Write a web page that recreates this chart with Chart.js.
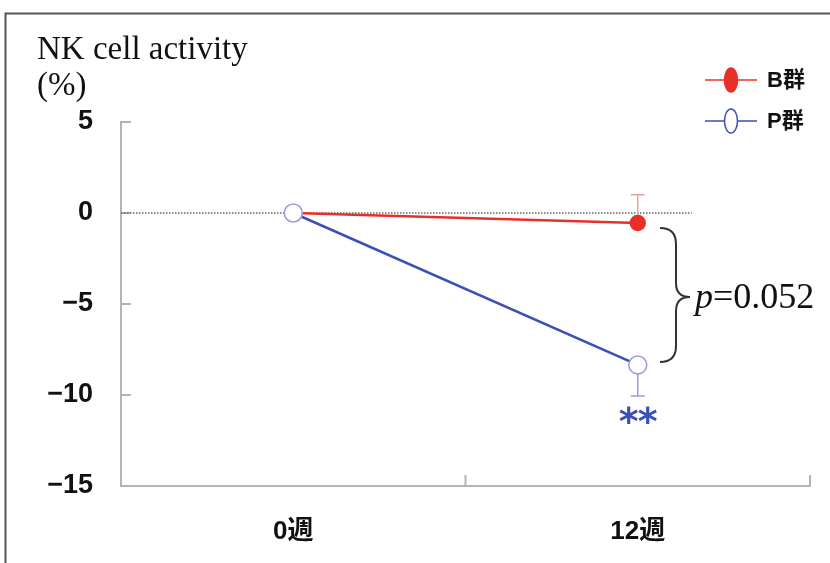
<!DOCTYPE html>
<html>
<head>
<meta charset="UTF-8">
<script src="https://cdn.jsdelivr.net/npm/chart.js"></script>
<style>
  html, body { margin: 0; padding: 0; background: #fff; }
  #wrap { width: 830px; height: 563px; position: relative; }
</style>
</head>
<body>
<div id="wrap"><canvas id="grafica" width="830" height="563"></canvas></div>
<script>
// data
const categories = ["0週", "12週"];
const seriesNames = ["B群", "P群"];
const bValues = [0, -0.55];
const pValues = [0, -8.35];
const bErrUp = [0, 1.55];     // only the upper whisker is shown for B
const pErrDown = [0, 1.7];    // only the lower whisker is shown for P
const yTicks = [5, 0, -5, -10, -15];
const pText = "=0.052";

const RED = "#e8302a";
const BLUE = "#3b4fb5";
const PURPLE = "#9a9ae0";
const AXIS = "#b4b4b4";
const jpFont = "'Liberation Sans','Noto Sans CJK JP',sans-serif";
const serif = "'Liberation Serif','DejaVu Serif',serif";

const extras = {
  id: "extras",
  beforeDatasetsDraw(chart) {
    const { ctx, chartArea: a, scales: { x, y } } = chart;
    ctx.save();
    // frame round the whole figure
    ctx.strokeStyle = "#555";
    ctx.lineWidth = 2;
    ctx.beginPath();
    ctx.moveTo(5.5, 600);
    ctx.lineTo(5.5, 13.5);
    ctx.lineTo(840, 13.5);
    ctx.stroke();

    // inner tick marks on y
    ctx.strokeStyle = AXIS;
    ctx.lineWidth = 2;
    yTicks.forEach((v) => {
      const py = y.getPixelForValue(v);
      ctx.beginPath();
      ctx.moveTo(a.left, py);
      ctx.lineTo(a.left + 10, py);
      ctx.stroke();
    });
    // inner tick marks on x, between categories and at the end
    const step = x.getPixelForValue(1) - x.getPixelForValue(0);
    categories.forEach((c, i) => {
      const px = x.getPixelForValue(i) + step / 2;
      ctx.beginPath();
      ctx.moveTo(px, a.bottom);
      ctx.lineTo(px, a.bottom - 11);
      ctx.stroke();
    });

    // dotted zero line
    const y0 = y.getPixelForValue(0);
    ctx.strokeStyle = "#666";
    ctx.lineWidth = 1.5;
    ctx.setLineDash([1.5, 1.5]);
    ctx.beginPath();
    ctx.moveTo(a.left, y0);
    ctx.lineTo(x.getPixelForValue(1) + 54, y0);
    ctx.stroke();
    ctx.setLineDash([]);

    // error bars
    const i = 1;
    const ex = x.getPixelForValue(i);
    ctx.lineWidth = 1.5;
    ctx.strokeStyle = "#f0a0a0";
    let yt = y.getPixelForValue(bValues[i] + bErrUp[i]);
    ctx.beginPath();
    ctx.moveTo(ex, y.getPixelForValue(bValues[i]));
    ctx.lineTo(ex, yt);
    ctx.moveTo(ex - 7, yt);
    ctx.lineTo(ex + 7, yt);
    ctx.stroke();
    ctx.strokeStyle = PURPLE;
    yt = y.getPixelForValue(pValues[i] - pErrDown[i]);
    ctx.beginPath();
    ctx.moveTo(ex, y.getPixelForValue(pValues[i]));
    ctx.lineTo(ex, yt);
    ctx.moveTo(ex - 7, yt);
    ctx.lineTo(ex + 7, yt);
    ctx.stroke();
    ctx.restore();
  },
  afterDraw(chart) {
    const { ctx, scales: { x, y } } = chart;
    ctx.save();
    // axis title
    ctx.fillStyle = "#111";
    ctx.font = "33px " + serif;
    ctx.textBaseline = "alphabetic";
    ctx.textAlign = "left";
    ctx.fillText("NK cell activity", 37, 59);
    ctx.fillText("(%)", 37, 95);

    // legend
    const items = [
      { name: seriesNames[0], y: 80, color: RED, fill: RED, stroke: RED },
      { name: seriesNames[1], y: 121, color: BLUE, fill: "#fff", stroke: BLUE },
    ];
    items.forEach((it) => {
      ctx.strokeStyle = it.color;
      ctx.lineWidth = 1.5;
      ctx.beginPath();
      ctx.moveTo(705, it.y);
      ctx.lineTo(757, it.y);
      ctx.stroke();
      ctx.beginPath();
      ctx.ellipse(731, it.y, 6.5, 12, 0, 0, Math.PI * 2);
      ctx.fillStyle = it.fill;
      ctx.fill();
      ctx.strokeStyle = it.stroke;
      ctx.lineWidth = 1.5;
      ctx.stroke();
      ctx.fillStyle = "#111";
      ctx.font = "bold 22px " + jpFont;
      ctx.textBaseline = "middle";
      ctx.fillText(it.name, 767, it.y + 1);
    });

    // curly brace between the two 12-week points
    const top = y.getPixelForValue(bValues[1]) + 5;
    const bot = y.getPixelForValue(pValues[1]) - 3;
    const mid = (top + bot) / 2 + 2;
    const bx = 660, vx = 676, cx = 690;
    ctx.strokeStyle = "#333";
    ctx.lineWidth = 2;
    ctx.beginPath();
    ctx.moveTo(bx, top);
    ctx.quadraticCurveTo(vx, top, vx, top + 16);
    ctx.lineTo(vx, mid - 14);
    ctx.quadraticCurveTo(vx, mid, cx, mid);
    ctx.quadraticCurveTo(vx, mid, vx, mid + 14);
    ctx.lineTo(vx, bot - 16);
    ctx.quadraticCurveTo(vx, bot, bx, bot);
    ctx.stroke();

    // p value
    ctx.fillStyle = "#111";
    ctx.textBaseline = "alphabetic";
    ctx.font = "italic 36px " + serif;
    ctx.fillText("p", 695, mid + 11);
    const pw = ctx.measureText("p").width;
    ctx.font = "36px " + serif;
    ctx.fillText(pText, 695 + pw, mid + 11);

    // significance mark
    const sx = x.getPixelForValue(1);
    ctx.fillStyle = BLUE;
    ctx.font = "bold 38px 'DejaVu Sans',sans-serif";
    ctx.textAlign = "center";
    ctx.fillText("*", sx - 9, 434);
    ctx.fillText("*", sx + 10, 434);
    ctx.restore();
  },
};

new Chart(document.getElementById("grafica"), {
  type: "line",
  data: {
    labels: categories,
    datasets: [
      {
        label: seriesNames[1],
        data: pValues,
        borderColor: BLUE,
        borderWidth: 2.5,
        pointRadius: 9,
        pointBackgroundColor: "#fff",
        pointBorderColor: PURPLE,
        pointBorderWidth: 1.5,
        order: 1,
      },
      {
        label: seriesNames[0],
        data: bValues,
        borderColor: RED,
        borderWidth: 2.5,
        pointRadius: 7,
        pointBackgroundColor: RED,
        pointBorderColor: RED,
        order: 2,
      },
    ],
  },
  options: {
    responsive: false,
    animation: false,
    layout: { padding: { top: 122, right: 20, left: 0, bottom: 0 }, autoPadding: false },
    plugins: { legend: { display: false }, tooltip: { enabled: false } },
    scales: {
      x: {
        offset: true,
        grid: { offset: true, drawOnChartArea: false, drawTicks: false },
        border: { color: AXIS, width: 2 },
        ticks: { color: "#111", font: { family: jpFont, size: 26, weight: "bold" }, padding: 30 },
        afterFit: (s) => { s.height = 77; },
      },
      y: {
        min: -15,
        max: 5,
        grid: { drawOnChartArea: false, drawTicks: false },
        border: { color: AXIS, width: 2 },
        afterBuildTicks: (s) => { s.ticks = yTicks.map((v) => ({ value: v })); },
        ticks: {
          color: "#111",
          font: { family: jpFont, size: 27, weight: "bold" },
          padding: 28,
          callback: (v) => String(v).replace("-", "\u2212"),
        },
        afterFit: (s) => { s.width = 121; },
      },
    },
  },
  plugins: [extras],
});
</script>
</body>
</html>
